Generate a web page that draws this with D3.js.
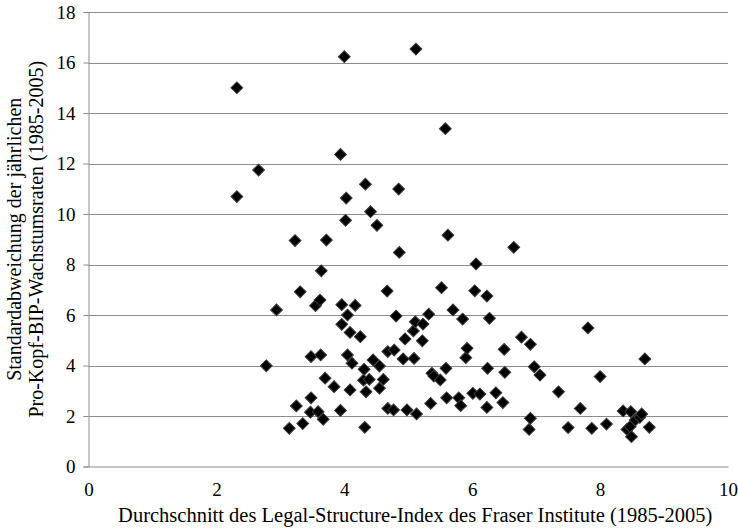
<!DOCTYPE html>
<html>
<head>
<meta charset="utf-8">
<script src="https://cdn.jsdelivr.net/npm/d3@7"></script>
<style>
  html, body { margin: 0; padding: 0; background: #fff; }
  svg { display: block; }
  text { font-family: "Liberation Serif", "Times New Roman", serif; fill: #000; }
</style>
</head>
<body>
<svg id="chart" width="738" height="531"></svg>
<script>
// Data
const xValues = [2.32, 2.66, 2.32, 2.78, 2.94, 3.14, 3.25, 3.23, 3.31, 3.35,
  3.48, 3.48, 3.47, 3.55, 3.59, 3.62, 3.63, 3.64, 3.67, 3.70,
  3.72, 3.84, 3.94, 3.94, 3.96, 3.96, 4.00, 4.02, 4.03, 4.05,
  4.05, 4.09, 4.09, 4.12, 4.17, 4.25, 4.30, 4.32, 4.33, 4.34,
  4.31, 4.39, 4.41, 4.45, 4.51, 4.55, 4.55, 4.61, 4.67, 4.68,
  4.78, 4.68, 4.77, 4.81, 4.85, 4.86, 4.92, 4.95, 4.98, 5.08,
  5.09, 5.11, 5.12, 5.13, 5.23, 5.22, 5.32, 5.35, 5.37, 5.40,
  5.50, 5.52, 5.58, 5.59, 5.60, 5.62, 5.70, 5.79, 5.82, 5.85,
  5.90, 5.92, 6.01, 6.04, 6.06, 6.12, 6.23, 6.23, 6.24, 6.27,
  6.37, 6.48, 6.50, 6.51, 6.65, 6.77, 6.89, 6.91, 6.91, 6.97,
  7.06, 7.35, 7.50, 7.69, 7.81, 7.87, 8.00, 8.10, 8.36, 8.42,
  8.47, 8.48, 8.49, 8.55, 8.62, 8.65, 8.70, 8.77];
const yValues = [15.00, 11.74, 10.69, 3.99, 6.20, 1.51, 2.40, 8.95, 6.92, 1.70,
  2.72, 4.35, 2.15, 6.37, 2.17, 6.59, 4.42, 7.75, 1.87, 3.50,
  8.97, 3.16, 2.22, 12.36, 6.41, 5.63, 16.23, 9.75, 10.63, 6.00,
  4.42, 5.31, 3.03, 4.09, 6.38, 5.14, 3.42, 1.55, 11.18, 2.96,
  3.85, 3.45, 10.09, 4.22, 9.55, 3.98, 3.10, 3.45, 6.95, 4.55,
  4.61, 2.30, 2.24, 5.96, 10.99, 8.48, 4.26, 5.05, 2.24, 5.37,
  4.28, 5.73, 16.53, 2.08, 5.64, 4.98, 6.03, 2.50, 3.69, 3.58,
  3.43, 7.08, 13.38, 3.89, 2.72, 9.16, 6.20, 2.72, 2.41, 5.84,
  4.31, 4.68, 2.90, 6.96, 8.02, 2.87, 6.75, 2.34, 3.89, 5.87,
  2.92, 2.53, 4.64, 3.73, 8.68, 5.12, 1.47, 1.91, 4.84, 3.95,
  3.62, 2.96, 1.54, 2.30, 5.49, 1.51, 3.56, 1.68, 2.20, 1.47,
  1.58, 2.17, 1.18, 1.84, 1.95, 2.08, 4.26, 1.55];
const xTicks = [0, 2, 4, 6, 8, 10];
const yTicks = [0, 2, 4, 6, 8, 10, 12, 14, 16, 18];
const xTitle = "Durchschnitt des Legal-Structure-Index des Fraser Institute (1985-2005)";
const yTitleLines = ["Standardabweichung der jährlichen", "Pro-Kopf-BIP-Wachstumsraten (1985-2005)"];

const points = xValues.map((x, i) => ({ x: x, y: yValues[i] }));

const svg = d3.select("#chart");
const plotLeft = 88.5, plotRight = 728, plotTop = 12, plotBottom = 466.5;
const serif = '"Liberation Serif", "Times New Roman", serif';

const x = d3.scaleLinear().domain([0, 10]).range([plotLeft, plotRight]);
const y = d3.scaleLinear().domain([0, 18]).range([plotBottom, plotTop]);

const gridColor = "#8c8c8c";

// horizontal gridlines
svg.append("g")
  .selectAll("line")
  .data(yTicks.filter(d => d !== 0))
  .join("line")
  .attr("x1", plotLeft).attr("x2", plotRight)
  .attr("y1", d => Math.round(y(d)) + 0.5).attr("y2", d => Math.round(y(d)) + 0.5)
  .attr("stroke", gridColor).attr("stroke-width", 1);

// y axis
const yAxis = svg.append("g")
  .attr("transform", `translate(${plotLeft},0)`)
  .call(d3.axisLeft(y).tickValues(yTicks).tickFormat(d3.format("d")).tickSize(5).tickPadding(8))
  .attr("font-family", serif).attr("font-size", 19);
yAxis.select(".domain").attr("stroke", gridColor);
yAxis.selectAll(".tick line").attr("stroke", gridColor);
yAxis.selectAll(".tick text").attr("fill", "#000");

// x axis
const xAxis = svg.append("g")
  .attr("transform", `translate(0,${plotBottom})`)
  .call(d3.axisBottom(x).tickValues(xTicks).tickFormat(d3.format("d")).tickSize(0).tickPadding(16))
  .attr("font-family", serif).attr("font-size", 19);
xAxis.select(".domain").attr("stroke", gridColor);
xAxis.selectAll(".tick text").attr("fill", "#000");

// markers (diamonds)
const sym = d3.symbol().type(d3.symbolSquare).size(70);
svg.append("g")
  .selectAll("path")
  .data(points)
  .join("path")
  .attr("d", sym)
  .attr("transform", d => `translate(${x(d.x)},${y(d.y)}) rotate(45)`)
  .attr("fill", "#000")
  .attr("stroke", "#3a3a3a")
  .attr("stroke-width", 1);

// x title
svg.append("text")
  .attr("x", (plotLeft + plotRight) / 2 + 7)
  .attr("y", 522)
  .attr("text-anchor", "middle")
  .attr("font-family", serif)
  .attr("font-size", 20.5)
  .text(xTitle);

// y title
const yt = svg.append("text")
  .attr("transform", `translate(0,${(plotTop + plotBottom) / 2}) rotate(-90)`)
  .attr("text-anchor", "middle")
  .attr("font-family", serif)
  .attr("font-size", 20);
yt.append("tspan").attr("x", 0).attr("y", 21).text(yTitleLines[0]);
yt.append("tspan").attr("x", 0).attr("y", 43).text(yTitleLines[1]);
</script>
</body>
</html>
